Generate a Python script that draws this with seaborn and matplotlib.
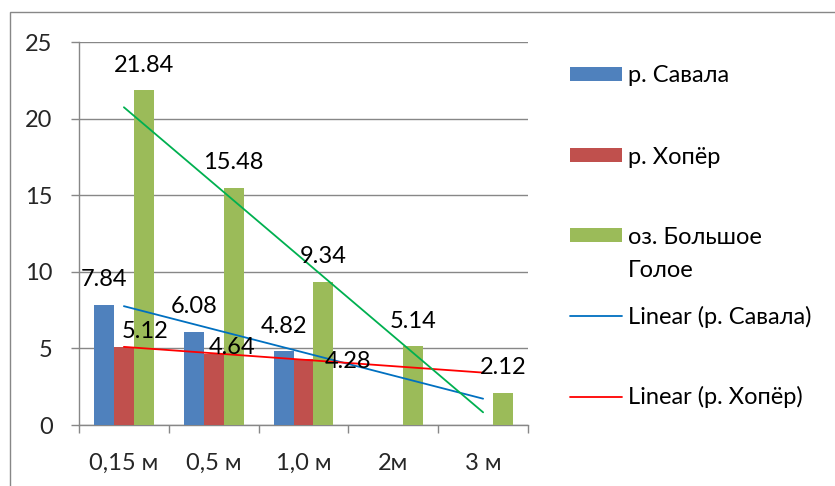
import numpy as np
import pandas as pd
import matplotlib
matplotlib.use("Agg")
import matplotlib.pyplot as plt
from matplotlib.patches import Rectangle
from matplotlib.lines import Line2D
import seaborn as sns

# Depth categories and measured values per water body
categories = ["0,15 м", "0,5 м", "1,0 м", "2м", "3 м"]
savala = [7.84, 6.08, 4.82, np.nan, np.nan]
khoper = [5.12, 4.64, 4.28, np.nan, np.nan]
golove = [21.84, 15.48, 9.34, 5.14, 2.12]
series_names = ["р. Савала", "р. Хопёр", "оз. Большое Голое"]
legend_labels = ["р. Савала", "р. Хопёр", "оз. Большое\nГолое",
                 "Linear (р. Савала)", "Linear (р. Хопёр)"]
y_ticks = [0, 5, 10, 15, 20, 25]

bar_colors = ["#4F81BD", "#C0504D", "#9BBB59"]
trend_colors = ["#0070C0", "#FF0000", "#00B050"]
grid_color = "#878787"

W, H = 835, 486
sns.set_theme(style="white")
plt.rcParams["font.family"] = ["Lato", "DejaVu Sans"]
FS = 17

values = [savala, khoper, golove]
rows = []
for name, vals in zip(series_names, values):
    for cat, v in zip(categories, vals):
        if not np.isnan(v):
            rows.append({"depth": cat, "series": name, "value": v})
df = pd.DataFrame(rows)

fig = plt.figure(figsize=(W / 100, H / 100), dpi=100)
ax = fig.add_axes([79 / W, 1 - 425 / H, (528 - 79) / W, (425 - 42) / H])

group_w = 2 / 3
sns.barplot(data=df, x="depth", y="value", hue="series",
            order=categories, hue_order=series_names,
            palette=bar_colors, saturation=1, width=group_w, errorbar=None,
            linewidth=0, ax=ax, legend=False, zorder=3)

ax.set_ylim(0, 25)
ax.set_xlim(-0.5, len(categories) - 0.5)
ax.set_yticks(y_ticks)
ax.set_yticklabels([str(t) for t in y_ticks], fontsize=FS)
ax.yaxis.grid(True, color=grid_color, linewidth=1.0, zorder=0)
ax.set_axisbelow(True)

# category boundaries carry the tick marks, labels sit at category centres
ax.set_xticks(np.arange(-0.5, len(categories), 1.0))
ax.set_xticklabels([""] * (len(categories) + 1))
ax.set_xticks(np.arange(len(categories)), minor=True)
ax.set_xticklabels(categories, minor=True, fontsize=FS)
ax.tick_params(axis="x", which="major", direction="out", length=6,
               width=1.0, color=grid_color, bottom=True)
ax.tick_params(axis="x", which="minor", length=0, pad=20, bottom=True)
ax.tick_params(axis="y", direction="out", length=6, width=1.0,
               color=grid_color, left=True, pad=13)
ax.set_xlabel("")
ax.set_ylabel("")
for side in ["top", "right"]:
    ax.spines[side].set_visible(False)
for side in ["left", "bottom"]:
    ax.spines[side].set_color(grid_color)
    ax.spines[side].set_linewidth(1.0)

# linear trend lines fitted over the points that exist
xpos = np.arange(len(categories))
for vals, col in zip(values, trend_colors):
    arr = np.array(vals, dtype=float)
    m = ~np.isnan(arr)
    k, b = np.polyfit(xpos[m], arr[m], 1)
    xs = np.array([xpos[0], xpos[-1]])
    sns.lineplot(x=xs, y=k * xs + b, color=col, linewidth=1.3, ax=ax,
                 zorder=4, legend=False)

# value labels above bars (offsets in pixels: dx, dy of the label centre)
bar_w = group_w / 3
offsets = {
    0: [(0, 26.5)] * 5,
    1: [(21.5, 16.6), (18.5, 8), (44.5, -0.6), (0, 0), (0, 0)],
    2: [(0, 26.5)] * 5,
}
for j, vals in enumerate(values):
    for i, v in enumerate(vals):
        if np.isnan(v):
            continue
        dx, dy = offsets[j][i]
        ax.annotate(f"{v:.2f}", xy=(i + (j - 1) * bar_w, v),
                    xytext=(dx, dy - 8), textcoords="offset pixels",
                    ha="center", va="baseline", fontsize=FS, color="black",
                    zorder=5, annotation_clip=False)


def fx(px):
    return px / W


def fy(py):
    return 1 - py / H


# legend on the right
entry_y = [74, 155.5, 235.5, 316, 396.5]
for idx, (lab, yc) in enumerate(zip(legend_labels, entry_y)):
    if idx < 3:
        fig.add_artist(Rectangle((fx(570), fy(yc + 7)), fx(622) - fx(570),
                                 fy(yc - 7) - fy(yc + 7),
                                 transform=fig.transFigure,
                                 facecolor=bar_colors[idx], edgecolor="none"))
    else:
        fig.add_artist(Line2D([fx(570), fx(622)], [fy(yc), fy(yc)],
                              transform=fig.transFigure,
                              color=trend_colors[idx - 3], linewidth=1.3))
    lines = lab.split("\n")
    for li, line in enumerate(lines):
        fig.text(fx(628), fy(yc + 8 + li * 33), line, fontsize=FS,
                 ha="left", va="baseline", color="black")

# chart frame
fig.add_artist(Rectangle((fx(9.5), fy(H + 20)), 1.2, fy(12) - fy(H + 20),
                         transform=fig.transFigure, facecolor="none",
                         edgecolor=grid_color, linewidth=1.0))

fig.savefig("out.png", dpi=100)
